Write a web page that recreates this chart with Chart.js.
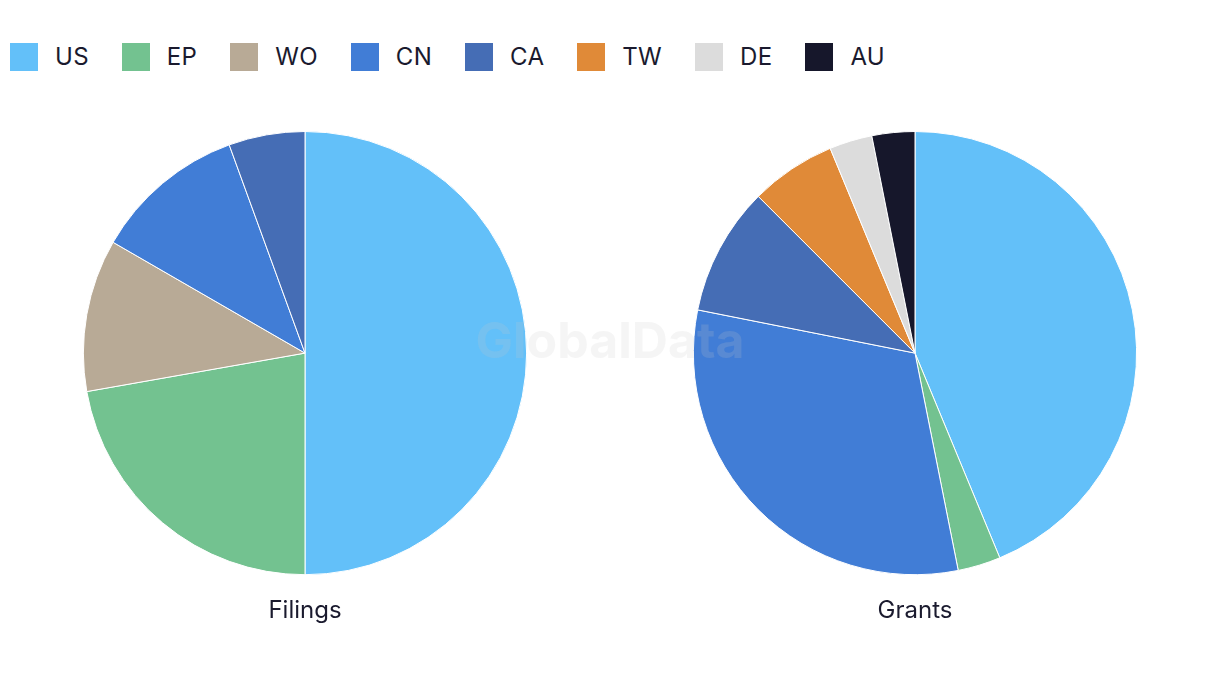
<!DOCTYPE html>
<html>
<head>
<meta charset="utf-8">
<script src="https://cdn.jsdelivr.net/npm/chart.js@4/dist/chart.umd.min.js"></script>
<style>
  body { margin: 0; background: #fff; font-family: Inter, "Noto Sans", sans-serif; }
  #page { position: relative; width: 1220px; height: 686px; overflow: hidden; }
  #legend { position: absolute; left: 10px; top: 43px; display: flex; align-items: center; }
  .item { display: flex; align-items: center; margin-right: 33px; font-size: 24px; line-height: 28px; color: #1a1a2e; letter-spacing: 0.3px; }
  .box { width: 28px; height: 28px; margin-right: 17px; }
  #mark { position: absolute; left: 0; width: 1220px; top: 310px; text-align: center; z-index: 5;
          pointer-events: none; font-size: 50px; line-height: 60px; font-weight: 700;
          color: rgba(200, 200, 200, 0.18); }
  .pie { position: absolute; top: 131px; width: 610px; height: 504px; }
</style>
</head>
<body>
<div id="page">
  <div id="legend"></div>
  <div class="pie" style="left:0"><canvas id="filings"></canvas></div>
  <div class="pie" style="left:610px"><canvas id="grants"></canvas></div>
  <div id="mark">GlobalData</div>
</div>
<script>
const offices = ["US", "EP", "WO", "CN", "CA", "TW", "DE", "AU"];
const colors = ["#63c0f9", "#73c290", "#b8aa96", "#417dd6", "#456db5", "#e08a38", "#dcdcdc", "#16172b"];
const filings = [9, 4, 2, 2, 1, 0, 0, 0];
const grants = [14, 1, 0, 10, 3, 2, 1, 1];

const legend = document.getElementById("legend");
offices.forEach((name, i) => {
  const item = document.createElement("div");
  item.className = "item";
  item.innerHTML = `<span class="box" style="background:${colors[i]}"></span><span>${name}</span>`;
  legend.appendChild(item);
});

const makePie = (id, values, title) => {
  new Chart(document.getElementById(id), {
    type: "pie",
    data: {
      labels: offices,
      datasets: [
        {
          data: values,
          backgroundColor: colors,
          borderColor: "#ffffff",
          borderWidth: 1,
        },
      ],
    },
    options: {
      responsive: true,
      maintainAspectRatio: false,
      animation: false,
      layout: { padding: 0 },
      plugins: {
        legend: { display: false },
        tooltip: { enabled: false },
        title: {
          display: true,
          position: "bottom",
          text: title,
          color: "#1a1a2e",
          font: { family: "Inter, 'Noto Sans', sans-serif", size: 24, weight: "normal" },
          padding: { top: 21, bottom: 10 },
        },
      },
    },
  });
};

makePie("filings", filings, "Filings");
makePie("grants", grants, "Grants");
</script>
</body>
</html>
